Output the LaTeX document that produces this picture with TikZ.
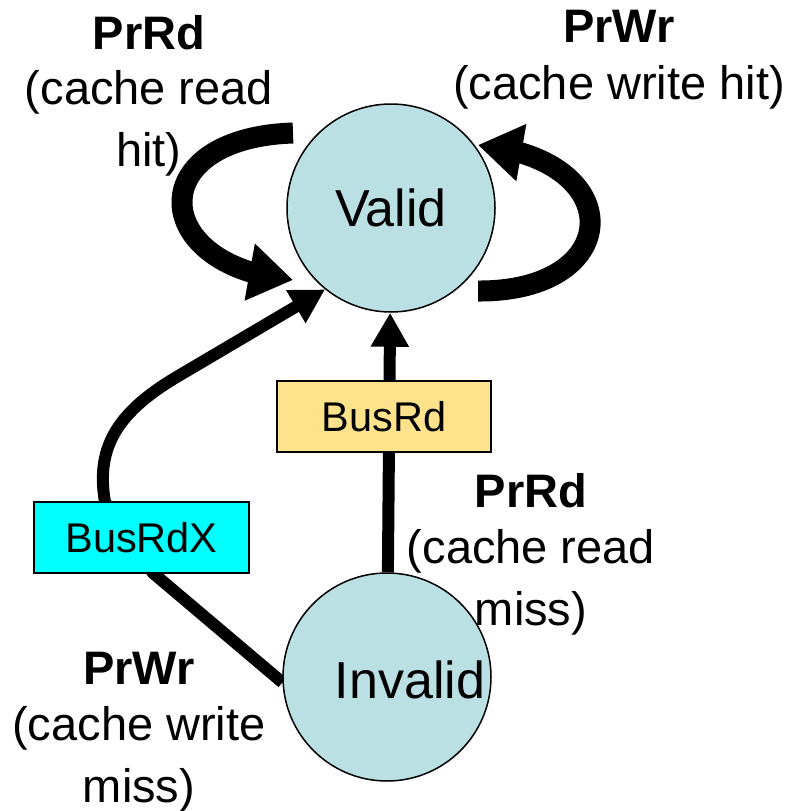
\documentclass[tikz,border=0pt]{standalone}
\usepackage{fontspec}
\setmainfont{Liberation Sans}
\usetikzlibrary{arrows.meta,calc,bending,backgrounds}
\definecolor{stateblue}{RGB}{187,224,227}
\definecolor{busgold}{RGB}{255,226,140}
\definecolor{buscyan}{RGB}{0,255,255}
\begin{document}
\begin{tikzpicture}[x=1pt,y=-1pt,
  state/.style={circle,draw=black,line width=1.5pt,fill=stateblue,minimum size=208pt,inner sep=0pt,font=\fontsize{52}{60}\selectfont},
  busbox/.style={draw=black,line width=1.5pt,minimum width=214pt,minimum height=71pt,inner sep=0pt,font=\fontsize{41.5}{48}\selectfont},
  lbl/.style={align=center,inner sep=0pt,anchor=north,font=\fontsize{47}{62}\selectfont},
  loopar/.style={line width=21pt,-{Triangle[length=44pt,width=55pt]}},
  trans/.style={line width=12pt,-{Triangle[length=34pt,width=36pt]}},
]
\useasboundingbox (0,0) rectangle (790,811);
% states
\node[state] (V) at (391,208) {Valid};
\node[state,label={[font=\fontsize{52}{60}\selectfont,xshift=23pt,yshift=-3pt]center:Invalid}] (I) at (387,677) {};
% bus boxes
\node[busbox,fill=busgold] (BR) at (384,416.5) {BusRd};
\node[busbox,fill=buscyan,minimum width=215pt] (BX) at (141.5,537.5) {BusRdX};
% labels
\node[lbl] (l1) at (149,15) {\textbf{PrRd}\\[-7pt](cache read\\hit)};
\node[lbl] (l2) at (619,10) {\textbf{PrWr}\\[-5pt](cache write hit)};
\node[lbl] (l3) at (531,473) {\textbf{PrRd}\\[-6pt](cache read\\miss)};
\node[lbl] (l4) at (139,652) {\textbf{PrWr}\\[-6pt](cache write\\miss)};
% connectors
\begin{scope}[on background layer]
  \coordinate (la) at (293,133);
  \coordinate (lb) at (293,280);
  \draw[loopar] (la) .. controls (140,138) and (150,268) .. (lb);
  \coordinate (ra) at (478,291);
  \coordinate (rb) at (478,145);
  \draw[loopar] (ra) .. controls (625,292) and (630,158) .. (rb);
  \draw[trans] (I) -- (V);
  \draw[trans,line join=round] (I.183) -- (153,573) -- (105,502)
     .. controls (95,445) and (120,410) .. (180,375) -- (V.231);
\end{scope}
\end{tikzpicture}
\end{document}
